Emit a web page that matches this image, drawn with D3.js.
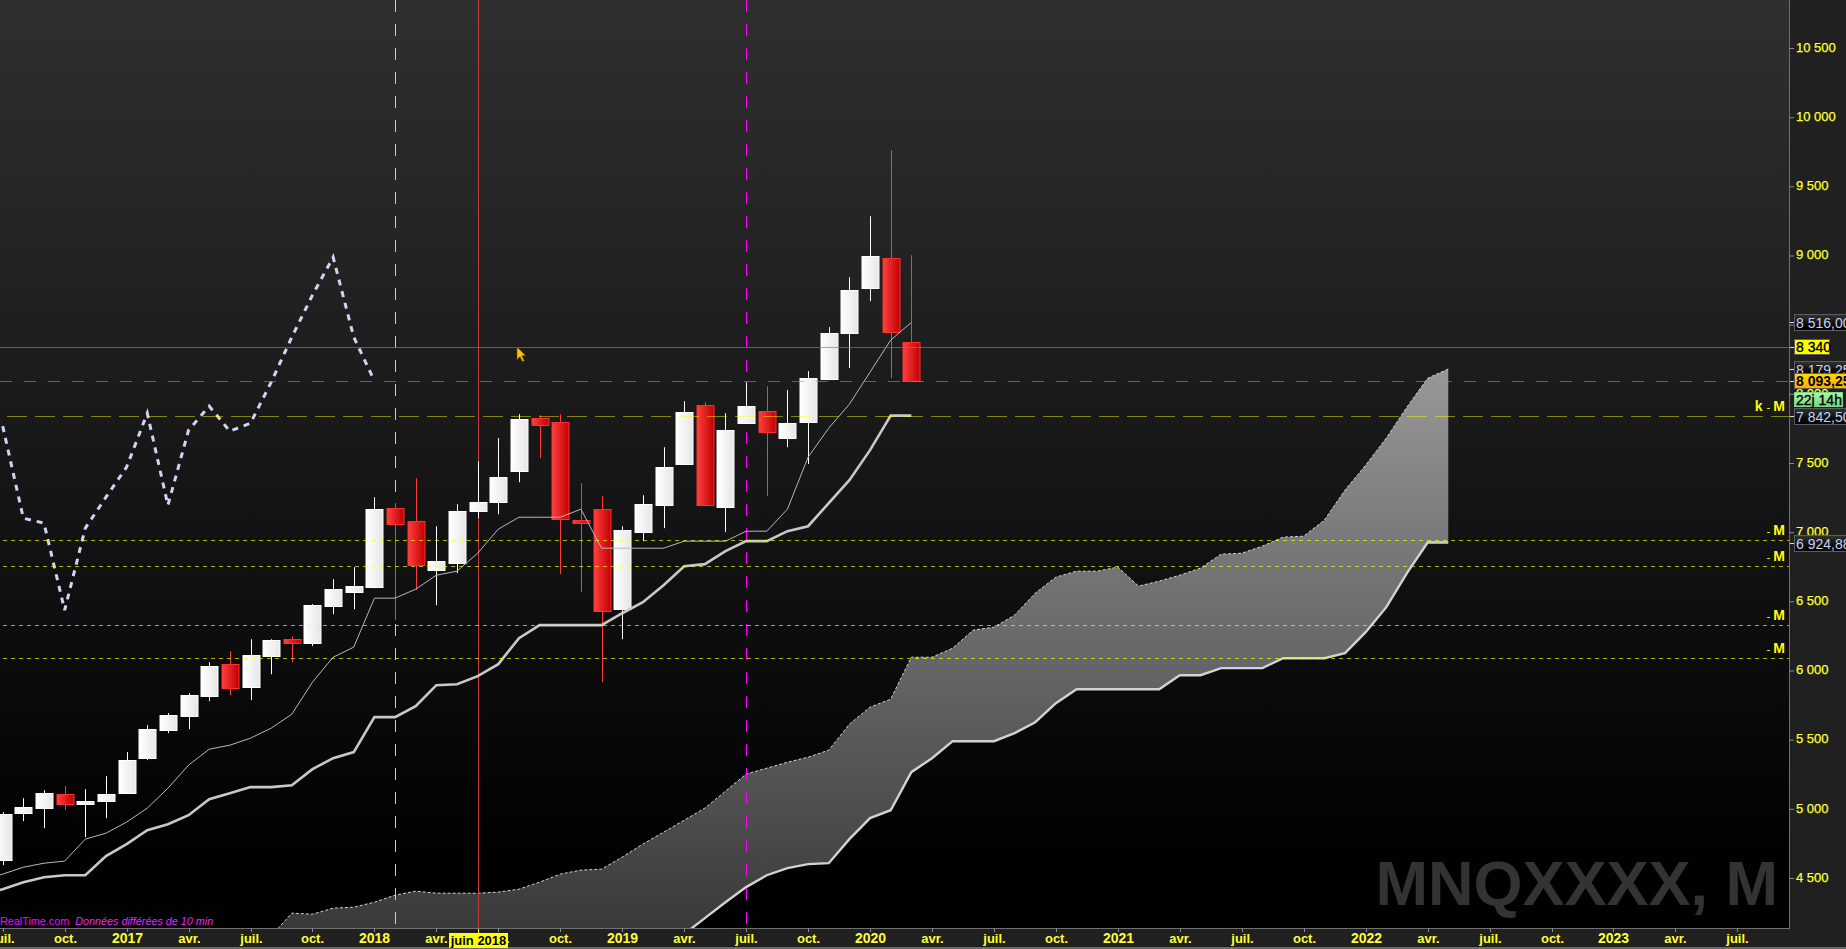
<!DOCTYPE html>
<html>
<head>
<meta charset="utf-8">
<script src="https://cdn.jsdelivr.net/npm/d3@7"></script>
<style>
html,body{margin:0;padding:0;background:#202020;overflow:hidden}
text{font-family:"Liberation Sans",Arial,sans-serif}
</style>
</head>
<body>
<svg id="c" width="1846" height="949"></svg>
<script>
// ---- Data ----
const tops   = [4961,5012,5113,5106,5055,5106,5352,5576,5677,5822,6031,6046,6111,6219,6226,6472,6588,6610,7166,7173,7080,6790,7152,7217,7398,7817,7824,7795,7087,7166,7014,7202,7470,7867,7918,7737,7911,7875,7788,8113,8439,8749,8995,8981,8374];
const bottoms= [4629,4969,5005,5034,5034,5055,5113,5366,5569,5670,5814,5872,5879,6104,6198,6198,6465,6566,6602,7058,6761,6725,6776,7152,7217,7441,7773,7094,7065,6429,6443,7000,7195,7492,7195,7181,7788,7723,7680,7795,8106,8439,8764,8446,8093.25];
const highs  = [4976,5077,5135,5164,5142,5236,5410,5605,5692,5836,6060,6140,6226,6226,6248,6480,6660,6747,7253,7210,7390,7043,7202,7513,7680,7853,7846,7853,7354,7260,7043,7267,7614,7947,7940,7860,8084,8055,8027,8164,8482,8843,9284,9761,9002];
const lows   = [4593,4911,4860,4990,4795,4933,5113,5352,5547,5576,5778,5822,5786,5973,6060,6176,6407,6443,6595,6364,6581,6472,6704,7101,7130,7361,7535,6696,6566,5916,6226,6935,7029,7492,7195,7000,7781,7260,7614,7492,8099,8186,8670,8113,8084];
const isDown = [0,0,0,1,0,0,0,0,0,0,0,1,0,0,1,0,0,0,0,1,1,0,0,0,0,0,1,1,1,1,0,0,0,0,1,0,0,1,0,0,0,0,0,1,1];

// the two moving lines start one month before the first visible candle
const lineStart = -1;
const tenkan = [4485,4528,4578,4607,4622,4781,4824,4904,5005,5149,5316,5431,5460,5511,5583,5684,5916,6096,6169,6523,6523,6588,6689,6718,6848,7022,7108,7108,7108,7166,6884,6884,6884,6884,6935,6935,6935,7007,7007,7166,7542,7752,7925,8157,8388,8516];
const kijun  = [4383,4419,4470,4506,4520,4520,4658,4745,4846,4889,4954,5070,5113,5157,5157,5171,5287,5366,5410,5663,5663,5742,5894,5901,5959,6046,6234,6328,6328,6328,6328,6414,6494,6617,6754,6769,6863,6935,6935,7007,7043,7210,7376,7593,7842.5,7842.5];
const chikou = [7766,7101,7065,6436,7029,7253,7470,7860,7195,7737,7911,7730,7788,8084,8410,8713,8988,8410,8093.25];

const spanAStart = 13;
const spanA = [4079,4246,4238,4282,4289,4325,4376,4405,4390,4390,4390,4398,4419,4470,4528,4557,4564,4651,4745,4831,4918,5005,5128,5251,5294,5337,5373,5424,5612,5735,5793,6096,6096,6161,6292,6313,6400,6559,6675,6718,6718,6747,6610,6646,6689,6740,6841,6848,6899,6964,6971,7087,7304,7484,7680,7904,8113,8179.25];
const spanBStart = 33;
const spanB = [4094,4210,4325,4434,4520,4571,4600,4607,4781,4933,4990,5265,5366,5489,5489,5489,5547,5626,5764,5865,5865,5865,5865,5865,5966,5966,6017,6017,6017,6089,6089,6089,6125,6277,6458,6704,6924.88,6924.88];

const priceTicks = [4500,5000,5500,6000,6500,7000,7500,8000,8500,9000,9500,10000,10500];
const timeLabels = ["juil.","oct.","2017","avr.","juil.","oct.","2018","avr.","juil.","oct.","2019","avr.","juil.","oct.","2020","avr.","juil.","oct.","2021","avr.","juil.","oct.","2022","avr.","juil.","oct.","2023","avr.","juil."];
const yearLabels = ["2017","2018","2019","2020","2021","2022","2023"];

const mLevels = [6940,6752,6326,6087];
const kLevel = 7842.5;
const lastLevel = 8093.25;
const cursorLevel = 8340;
const vOrangeIdx = 19, vRedIdx = 23, vMagentaIdx = 36;
const greyBoxes = [["8 516,00",8516],["8 179,25",8179.25],["7 842,50",7842.5],["6 924,88",6924.88]];
const footerSource = "RealTime.com";
const footerNote = "Données différées de 10 min";
const watermark = "MNQXXXX, M";

// ---- Layout ----
const W = 1846, H = 949, plotR = 1789, plotB = 928;
const x = d3.scaleLinear().domain([0,86.5]).range([2.7,plotR]);
const y = d3.scaleLinear().domain([4500,10500]).range([878,48]);
const svg = d3.select("#c");
const defs = svg.append("defs");

function vGrad(id, stops, user){
  const g = defs.append("linearGradient").attr("id",id).attr("x1",0).attr("x2",0).attr("y1",0).attr("y2",1);
  if(user){ g.attr("gradientUnits","userSpaceOnUse").attr("y1",user[0]).attr("y2",user[1]); }
  stops.forEach(s=>g.append("stop").attr("offset",s[0]).attr("stop-color",s[1]));
}
function hGrad(id, a, b){
  const g = defs.append("linearGradient").attr("id",id).attr("x1",0).attr("x2",1).attr("y1",0).attr("y2",0);
  g.append("stop").attr("offset",0).attr("stop-color",a);
  g.append("stop").attr("offset",1).attr("stop-color",b);
}
vGrad("bg",[[0,"#2f2f2f"],[0.26,"#242424"],[0.43,"#1a1a1a"],[0.67,"#0e0e0e"],[0.9,"#020202"],[1,"#000"]]);
vGrad("cloud",[[0,"#989898"],[0.32,"#787878"],[0.48,"#6a6a6a"],[0.59,"#606060"],[0.81,"#4c4c4c"],[0.95,"#3e3e3e"],[1,"#3a3a3a"]],[y(8179.25),plotB]);
vGrad("boxGrey",[[0,"#333"],[0.65,"#0a0a0a"],[1,"#000"]]);
vGrad("boxOrange",[[0,"#ffdc00"],[1,"#ffaa00"]]);
vGrad("boxGreen",[[0,"#b0f5b0"],[1,"#70d878"]]);
hGrad("upBody","#ffffff","#e6e6e6");
hGrad("downBody","#ff4040","#c00000");
defs.append("clipPath").attr("id","plot").append("rect").attr("width",plotR).attr("height",plotB);

// panels
svg.append("rect").attr("width",W).attr("height",H).attr("fill","#202020");
svg.append("rect").attr("width",plotR).attr("height",plotB).attr("fill","url(#bg)");

const plot = svg.append("g").attr("clip-path","url(#plot)");

// watermark
plot.append("text").text(watermark).attr("x",1778).attr("y",905)
  .attr("text-anchor","end").attr("font-size",63).attr("font-weight","bold").attr("fill","#333333");

// footer
const foot = plot.append("text").attr("x",0).attr("y",925).attr("font-size",10.8).attr("fill","#ff00ff");
foot.append("tspan").text(footerSource);
foot.append("tspan").text("  "+footerNote).attr("font-style","italic").attr("dx",3).attr("fill","#e828ff");

// cloud
const cloudData = d3.range(spanBStart, spanAStart+spanA.length).map(i=>({i,a:spanA[i-spanAStart],b:spanB[i-spanBStart]}));
const cloudLead = d3.range(spanAStart, spanBStart).map(i=>({i,a:spanA[i-spanAStart],b:3800}));
plot.append("path").datum(cloudLead.concat(cloudData))
  .attr("d",d3.area().x(d=>x(d.i)).y0(d=>y(d.b)).y1(d=>y(d.a)))
  .attr("fill","url(#cloud)");
plot.append("path").datum(spanA)
  .attr("d",d3.line().x((d,i)=>x(i+spanAStart)).y(d=>y(d)))
  .attr("fill","none").attr("stroke","#d4d4d4").attr("stroke-width",1).attr("stroke-dasharray","3,2");
plot.append("path").datum(spanB)
  .attr("d",d3.line().x((d,i)=>x(i+spanBStart)).y(d=>y(d)))
  .attr("fill","none").attr("stroke","#d2d2d2").attr("stroke-width",2.4);

// vertical markers (under candles)
[[vOrangeIdx,"#ffc860","12,12"],[vRedIdx,"#c83a3a",null],[vMagentaIdx,"#ff00ff","12,12"]].forEach(v=>{
  plot.append("line").attr("x1",Math.round(x(v[0]))+0.5).attr("x2",Math.round(x(v[0]))+0.5)
    .attr("y1",0).attr("y2",plotB).attr("stroke",v[1]).attr("stroke-width",1)
    .attr("stroke-dasharray",v[2]);
});

// candles
const idx = d3.range(tops.length);
const px = i=>Math.round(x(i));
plot.append("g").selectAll("line").data(idx).join("line")
  .attr("x1",i=>px(i)+0.5).attr("x2",i=>px(i)+0.5)
  .attr("y1",i=>y(highs[i])).attr("y2",i=>y(lows[i]))
  .attr("stroke",i=>isDown[i]?"#ff3a3a":"#ffffff").attr("stroke-width",1);
plot.append("g").selectAll("rect").data(idx).join("rect")
  .attr("x",i=>px(i)-8).attr("width",17)
  .attr("y",i=>Math.round(y(tops[i]))+0.5)
  .attr("height",i=>Math.max(1,Math.round(y(bottoms[i]))-Math.round(y(tops[i]))))
  .attr("fill",i=>isDown[i]?"url(#downBody)":"url(#upBody)")
  .attr("stroke",i=>isDown[i]?"#ff3030":"#ffffff").attr("stroke-width",1);

// ichimoku lines
const ln = d3.line().x((d,i)=>x(i+lineStart)).y(d=>y(d));
plot.append("path").datum(tenkan).attr("d",ln).attr("fill","none").attr("stroke","#b8b8b8").attr("stroke-width",1);
plot.append("path").datum(kijun).attr("d",ln).attr("fill","none").attr("stroke","#c8c8c8").attr("stroke-width",2.6);
plot.append("path").datum(chikou).attr("d",d3.line().x((d,i)=>x(i)).y(d=>y(d))).attr("fill","none").attr("stroke","#d2d2f4").attr("stroke-width",3).attr("stroke-dasharray","6,6");

// horizontal levels
function hLine(v,color,op,dash,x0){
  const yy = Math.round(y(v))+0.5;
  plot.append("line").attr("x1",x0).attr("x2",plotR).attr("y1",yy).attr("y2",yy)
    .attr("stroke",color).attr("stroke-opacity",op).attr("stroke-width",1).attr("stroke-dasharray",dash);
}
mLevels.forEach(v=>hLine(v,"#ffff00",0.68,"4,4",3));
hLine(kLevel,"#ffff00",0.46,"20,8",7);
hLine(lastLevel,"#00d0d0",0.6,"12,12",0);
hLine(cursorLevel,"#e85050",0.68,null,0);

// level letters
function levelText(v,pre){
  const t = svg.append("text").attr("x",1785).attr("y",Math.round(y(v))-5)
    .attr("text-anchor","end").attr("fill","#ffff00").attr("font-weight","bold").attr("font-size",14);
  if(pre){ t.append("tspan").text(pre); }
  t.append("tspan").text("- ").attr("font-size",11).attr("font-weight","normal").attr("dx",pre?4:0);
  t.append("tspan").text("M");
}
mLevels.forEach(v=>levelText(v,""));
levelText(kLevel,"k");

// cursor arrow
const cx = x(24.9), cy = y(cursorLevel);
svg.append("path").attr("transform",`translate(${cx},${cy})`)
  .attr("d","M0,0L0,13L3,10L5.5,15L7.5,14L5,9L9,9Z")
  .attr("fill","#ffc400").attr("stroke","#3a3000").attr("stroke-width",0.6);

// axis lines
svg.append("line").attr("x1",plotR+0.5).attr("x2",plotR+0.5).attr("y1",0).attr("y2",plotB+1).attr("stroke","#707070");
svg.append("line").attr("x1",0).attr("x2",plotR+1).attr("y1",plotB+0.5).attr("y2",plotB+0.5).attr("stroke","#707070");
svg.append("rect").attr("y",H-2).attr("width",W).attr("height",2).attr("fill","#6a6a6a");

// price axis
const fr = d3.formatLocale({decimal:",",thousands:"\u00a0",grouping:[3],currency:["",""]});
const yAxis = d3.axisRight(y).tickValues(priceTicks).tickFormat(fr.format(",")).tickSize(5).tickSizeOuter(0);
const ga = svg.append("g").attr("transform",`translate(${plotR},0)`).call(yAxis);
ga.select(".domain").remove();
ga.selectAll(".tick line").attr("stroke","#8a8a8a");
ga.selectAll("text").attr("x",7).attr("y",-1).attr("font-size",13).attr("fill","#ffff30")
  .attr("font-family","Liberation Sans").attr("stroke","#ffff30").attr("stroke-width",0.25);

// time axis
const timeIdx = timeLabels.map((d,i)=>i*3);
const xAxis = d3.axisBottom(x).tickValues(timeIdx).tickFormat((d,i)=>timeLabels[i]).tickSize(4).tickSizeOuter(0);
const gb = svg.append("g").attr("transform",`translate(0,${plotB})`).call(xAxis);
gb.select(".domain").remove();
gb.selectAll(".tick").attr("transform",d=>`translate(${Math.round(x(d))+0.5},0)`);
gb.selectAll(".tick line").attr("stroke","#8a8a8a");
gb.selectAll("text").attr("y",15).attr("dy",0).attr("fill","#ffff30")
  .attr("font-family","Liberation Sans").attr("font-weight","bold")
  .attr("font-size",function(){return yearLabels.includes(this.textContent)?14:13;});

// price boxes
function box(text,v,fill,color,weight,w,x0,hgt){
  const yc = Math.round(y(v));
  const h = hgt||17;
  svg.append("line").attr("x1",plotR+1).attr("x2",plotR+5).attr("y1",yc+0.5).attr("y2",yc+0.5).attr("stroke","#e0e0e0");
  label(text,x0||1794,yc-Math.floor(h/2),w,h,fill,color,weight);
}
function label(text,bx,by,w,h,fill,color,weight,stroke){
  svg.append("rect").attr("x",bx+0.5).attr("y",by+0.5).attr("width",w).attr("height",h-1)
    .attr("fill",fill).attr("stroke",stroke||"#5c5c5c");
  const t = svg.append("text").text(text).attr("x",bx+2).attr("y",by+h/2+5)
    .attr("font-size",14).attr("fill",color).attr("font-weight",weight==="bold"?"bold":"normal");
  if(weight==="semi"){ t.attr("stroke",color).attr("stroke-width",0.35); }
}
box(greyBoxes[0][0],greyBoxes[0][1],"url(#boxGrey)","#c4d4f0","",60);
box("8 340",cursorLevel,"#ffff00","#000","semi",35,1794,16);
box(greyBoxes[1][0],greyBoxes[1][1],"url(#boxGrey)","#c4d4f0","",60);
box(greyBoxes[2][0],greyBoxes[2][1],"url(#boxGrey)","#c4d4f0","",60);
box(greyBoxes[3][0],greyBoxes[3][1],"url(#boxGrey)","#c4d4f0","",60);
box("8 093,25",lastLevel,"url(#boxOrange)","#000","bold",60,1794,16);
label("22j 14h",1794,392,48,15,"url(#boxGreen)","#000","semi","#7fd88a");

// crosshair date
const jx = Math.round(x(vRedIdx));
svg.append("line").attr("x1",jx+0.5).attr("x2",jx+0.5).attr("y1",plotB+1).attr("y2",plotB+5).attr("stroke","#ffff00");
svg.append("rect").attr("x",jx-29).attr("y",933).attr("width",59).attr("height",15).attr("fill","#ffff00");
svg.append("text").text("juin 2018").attr("x",jx+0.5).attr("y",945).attr("text-anchor","middle")
  .attr("font-size",13).attr("font-weight","bold").attr("fill","#000");
</script>
</body>
</html>
